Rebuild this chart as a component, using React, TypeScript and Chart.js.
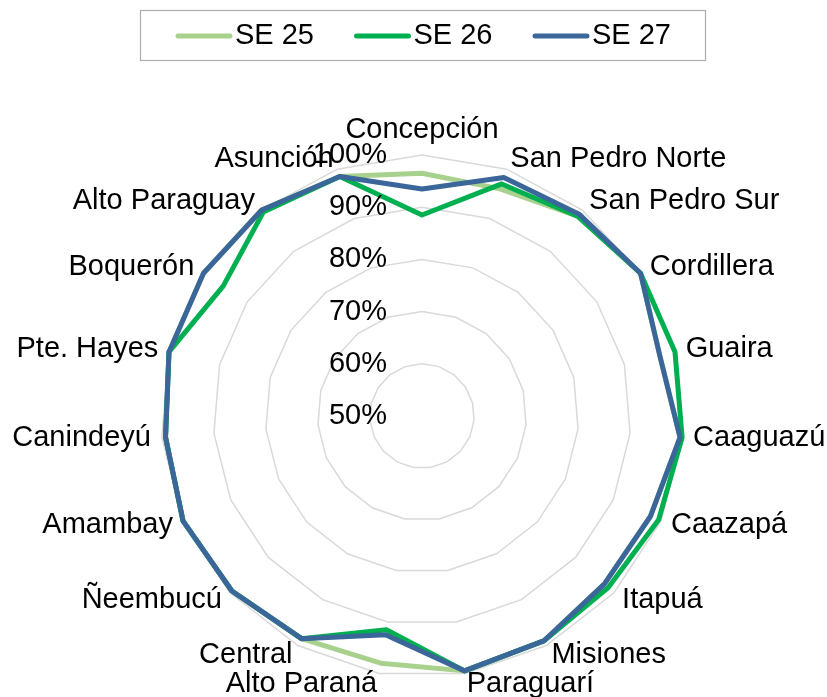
import React, { useEffect, useRef } from 'react';
import { Chart, registerables } from 'chart.js';

Chart.register(...registerables);

const categories = [
  'Concepción', 'San Pedro Norte', 'San Pedro Sur', 'Cordillera', 'Guaira', 'Caaguazú',
  'Caazapá', 'Itapuá', 'Misiones', 'Paraguarí', 'Alto Paraná', 'Central', 'Ñeembucú',
  'Amambay', 'Canindeyú', 'Pte. Hayes', 'Boquerón', 'Alto Paraguay', 'Asunción',
];

const seriesNames = ['SE 25', 'SE 26', 'SE 27'];

const se25 = [96.5, 96, 98.5, 100, 97, 99.6, 97.8, 97.5, 99, 99.5, 98, 98.5, 99.5, 100, 99.3, 100, 100, 100, 98.5];
const se26 = [88.5, 97, 98.5, 100, 100, 100, 99.5, 98.5, 99, 99.5, 91.5, 98.5, 99.5, 100, 99.3, 100, 95.5, 99.5, 98.5];
const se27 = [93.5, 98.3, 99, 100, 97, 99.6, 97.8, 97.5, 99, 99.5, 92.5, 98.5, 99.5, 100, 99.3, 100, 100, 100, 98.5];

const tickValues = [50, 60, 70, 80, 90, 100];

const seriesColors = ['#A9D18E', '#00B050', '#3A6699'];

const FONT_FAMILY = '"Liberation Sans", Arial, Helvetica, sans-serif';
const FONT_SIZE = 29;

export default function App() {
  const canvasRef = useRef<HTMLCanvasElement>(null);

  useEffect(() => {
    const canvas = canvasRef.current;
    if (!canvas) return;

    const overlay = {
      id: 'excelLikeLabels',
      afterDatasetsDraw(chart: any) {
        const ctx = chart.ctx as CanvasRenderingContext2D;
        const scale = chart.scales.r;
        ctx.save();
        ctx.font = `${FONT_SIZE}px ${FONT_FAMILY}`;
        ctx.fillStyle = '#000000';

        // radial tick labels
        ctx.textAlign = 'right';
        ctx.textBaseline = 'middle';
        tickValues.forEach((v) => {
          const y = scale.yCenter - scale.getDistanceFromCenterForValue(v);
          ctx.fillText(`${v}%`, scale.xCenter - 35, y);
        });

        // category labels
        const labels: string[] = chart.data.labels;
        labels.forEach((label, i) => {
          const a = scale.getIndexAngle(i);
          const ux = Math.sin(a);
          const uy = -Math.cos(a);
          const p = scale.getPointPosition(i, scale.drawingArea + 11);
          if (Math.abs(ux) < 0.1) {
            ctx.textAlign = 'center';
            if (uy < 0) {
              ctx.textBaseline = 'alphabetic';
              ctx.fillText(label, p.x, p.y - 6);
            } else {
              ctx.textBaseline = 'top';
              ctx.fillText(label, p.x, p.y);
            }
          } else {
            ctx.textAlign = ux > 0 ? 'left' : 'right';
            ctx.textBaseline = 'middle';
            ctx.fillText(label, p.x, p.y);
          }
        });

        // legend
        ctx.strokeStyle = '#ADADAD';
        ctx.lineWidth = 1.2;
        ctx.strokeRect(140.5, 10.5, 565, 50);
        const datasets = chart.data.datasets;
        datasets.forEach((ds: any, i: number) => {
          const x0 = 176 + i * 178.5;
          const y0 = 36;
          ctx.beginPath();
          ctx.strokeStyle = ds.borderColor;
          ctx.lineWidth = 5;
          ctx.lineCap = 'round';
          ctx.moveTo(x0 + 2, y0);
          ctx.lineTo(x0 + 54, y0);
          ctx.stroke();
          ctx.fillStyle = '#000000';
          ctx.textAlign = 'left';
          ctx.textBaseline = 'middle';
          ctx.fillText(ds.label, x0 + 59, y0);
        });
        ctx.restore();
      },
    };

    const seriesValues = [se25, se26, se27];
    const chart = new Chart(canvas, {
      type: 'radar',
      data: {
        labels: categories,
        datasets: seriesNames.map((name, i) => ({
          label: name,
          data: seriesValues[i],
          borderColor: seriesColors[i],
          backgroundColor: seriesColors[i],
          borderWidth: 5,
          borderJoinStyle: 'round',
          borderCapStyle: 'round',
          fill: false,
          pointRadius: 0,
          pointHoverRadius: 0,
          tension: 0,
          order: 3 - i,
        })),
      },
      options: {
        responsive: false,
        animation: false,
        devicePixelRatio: 1,
        layout: { padding: 0 },
        plugins: {
          legend: { display: false },
          tooltip: { enabled: false },
        },
        scales: {
          r: {
            min: 50,
            max: 100,
            startAngle: 0,
            ticks: { display: false, stepSize: 10 },
            grid: { color: '#D9D9D9', lineWidth: 1.5, circular: false },
            angleLines: { display: false },
            pointLabels: { display: false },
            afterFit: (s: any) => {
              s.xCenter = 422;
              s.yCenter = 416;
              s.drawingArea = 261;
            },
          },
        },
      } as any,
      plugins: [overlay],
    });

    return () => chart.destroy();
  }, []);

  return (
    <div style={{ position: 'fixed', left: 0, top: 0, width: 827, height: 697, background: '#ffffff' }}>
      <canvas ref={canvasRef} width={827} height={697} style={{ display: 'block', width: 827, height: 697 }} />
    </div>
  );
}
